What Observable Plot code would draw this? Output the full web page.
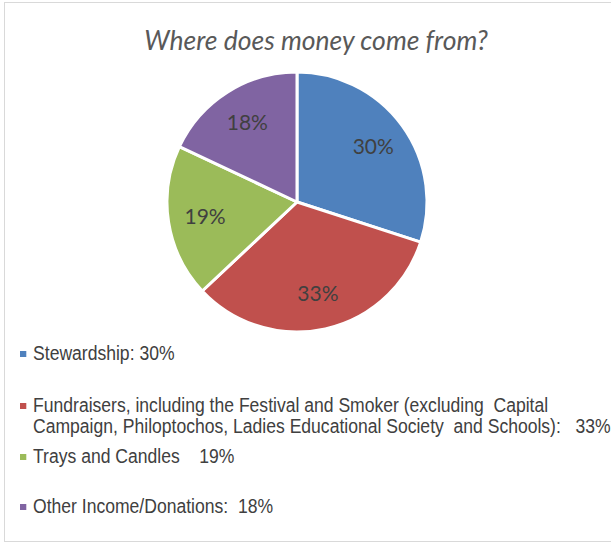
<!DOCTYPE html>
<html><head><meta charset="utf-8">
<script src="https://cdn.jsdelivr.net/npm/d3@7"></script>
<script src="https://cdn.jsdelivr.net/npm/@observablehq/plot@0.6"></script>
<style>
body{margin:0;background:#fff;width:611px;height:543px;overflow:hidden;position:relative;}
#frame{position:absolute;left:4px;top:2px;width:640px;height:538px;border:1px solid #d9d9d9;}
#title{position:absolute;left:4px;top:24px;width:624px;text-align:center;font:italic 26.5px Lato,sans-serif;color:#595959;}
#pie{position:absolute;left:0;top:60px;}
#legend{position:absolute;left:20px;top:343px;font-family:"Liberation Sans",Arial,sans-serif;font-size:19.5px;color:#404040;transform:scaleX(0.9);transform-origin:0 0;}
.item{position:relative;padding-left:14.5px;line-height:21px;white-space:pre;}
.sw{position:absolute;left:0;top:7.5px;width:6.7px;height:6px;}
</style></head><body>
<div id="frame"></div>
<div id="title">Where does money come from?</div>
<div id="pie"></div>
<div id="legend"></div>
<script>
const categories = ["Stewardship", "Fundraisers", "Trays and Candles", "Other Income/Donations"];
const values = [30, 33, 19, 18];
const colors = ["#4F81BD", "#C0504D", "#9BBB59", "#8064A2"];
const legendLabels = [
  "Stewardship: 30%",
  "Fundraisers, including the Festival and Smoker (excluding  Capital\nCampaign, Philoptochos, Ladies Educational Society  and Schools):   33%",
  "Trays and Candles    19%",
  "Other Income/Donations:  18%"
];

const arcs = d3.pie().sort(null).value(d => d.value)(categories.map((c, i) => ({category: c, value: values[i]})));
const data = arcs.map(a => ({category: a.data.category, value: a.data.value, start: a.startAngle, end: a.endAngle, mid: (a.startAngle + a.endAngle) / 2}));

const pieMark = (index, scales) => {
  const cx = scales.x(0), cy = scales.y(0), r = scales.x(1) - scales.x(0);
  const arc = d3.arc().innerRadius(0).outerRadius(r);
  const g = d3.create("svg:g").attr("transform", `translate(${cx},${cy})`);
  g.selectAll("path").data(data).join("path")
    .attr("d", d => arc({startAngle: d.start, endAngle: d.end}))
    .attr("fill", d => scales.color(d.category))
    .attr("stroke", "#fff").attr("stroke-width", 3).attr("stroke-linejoin", "round");
  return g.node();
};

const chart = Plot.plot({
  width: 611, height: 285,
  margin: 0,
  x: {domain: [-1, 1], range: [167, 427], axis: null},
  y: {domain: [-1, 1], range: [272, 12], axis: null},
  color: {domain: categories, range: colors},
  style: {background: "transparent", overflow: "visible"},
  marks: [
    pieMark,
    Plot.text(data, {
      x: d => 0.72 * Math.sin(d.mid),
      y: d => 0.72 * Math.cos(d.mid),
      text: d => d.value + "%",
      fill: "#404040",
      fontSize: 21,
      fontFamily: "Lato, sans-serif"
    })
  ]
});
document.getElementById("pie").appendChild(chart);

const legend = d3.select("#legend");
const gaps = [0, 31, 9, 29];
legendLabels.forEach((t, i) => {
  const it = legend.append("div").attr("class", "item").style("margin-top", gaps[i] + "px").text(t);
  it.append("span").attr("class", "sw").style("background", colors[i]);
});
</script>
</body></html>
